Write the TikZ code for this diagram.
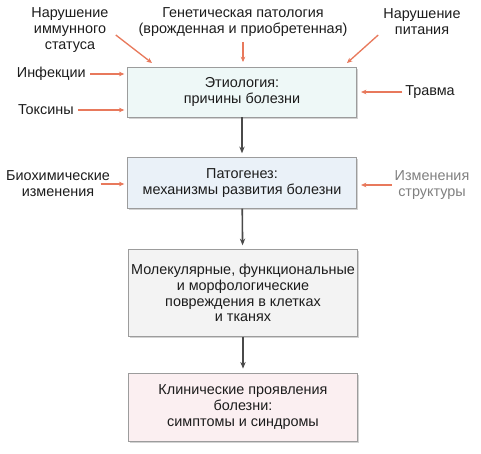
\documentclass[tikz,border=0pt]{standalone}
\usepackage{fontspec}
\setmainfont{Liberation Sans}
\usepackage{tikz}
\usetikzlibrary{arrows.meta}
\usetikzlibrary{shadows}

\definecolor{etiofill}{HTML}{EEF8F7}
\definecolor{pathofill}{HTML}{EAF1F8}
\definecolor{damagefill}{HTML}{F3F3F3}
\definecolor{clinicfill}{HTML}{FBEFF1}
\definecolor{boxline}{HTML}{9C9C9C}
\definecolor{causered}{HTML}{E8795C}
\definecolor{flowgray}{HTML}{4A4A4A}
\definecolor{inktext}{HTML}{1C1C1C}

\begin{document}
\begin{tikzpicture}[x=0.75pt,y=-0.75pt,
	every node/.style={font=\fontsize{10.8}{11.9}\selectfont,align=center,inner sep=0pt,text=inktext},
	stage/.style={draw=boxline,line width=0.6pt,minimum width=172pt,
		drop shadow={shadow xshift=1pt,shadow yshift=-1.2pt,opacity=0.35}},
	cause/.style={draw=causered,line width=1pt,-{Stealth[length=4pt,width=3.5pt]}},
	flow/.style={draw=flowgray,line width=1.2pt,-{Stealth[length=5pt,width=4pt]}}]
\useasboundingbox (0,0) rectangle (481,453);

%stages
\node[stage,fill=etiofill,minimum height=37.5pt] (etio) at (242,92) {Этиология:\\причины болезни};
\node[stage,fill=pathofill,minimum height=38pt] (patho) at (242,183) {Патогенез:\\механизмы развития болезни};
\node[stage,fill=damagefill,minimum height=65pt] (damage) at (243,293)
	{Молекулярные, функциональные\\и морфологические\\повреждения в клетках\\и тканях};
\node[stage,fill=clinicfill,minimum height=51pt] (clinic) at (243,407)
	{Клинические проявления\\болезни:\\симптомы и синдромы};

%flow
\foreach \a/\b in {etio/patho,patho/damage,damage/clinic}
	\draw[flow,shorten >=3pt] (\a) -- (\b);

%causes
\node (imm) at (70,30) {Нарушение\\иммунного\\статуса};
\node (gen) at (243,22) {Генетическая патология\\(врожденная и приобретенная)};
\node (pit) at (422,22) {Нарушение\\питания};
\node[anchor=east] (inf) at (86,74) {Инфекции};
\node[anchor=east] (tox) at (74,110) {Токсины};
\node[anchor=west] (trav) at (405,92) {Травма};
\node (bio) at (58,184) {Биохимические\\изменения};
\node[text=gray] (izm) at (432,185) {Изменения\\структуры};

\coordinate (imm-tip) at (152,63);
\coordinate (gen-tip) at (243,62);
\coordinate (pit-tip) at (347,63);

\draw[cause] ([shift={(7,5)}]imm.east) -- (imm-tip);
\draw[cause] ([yshift=-4pt]gen.south) -- (gen-tip);
\draw[cause] ([shift={(-5,13)}]pit.west) -- (pit-tip);
\draw[cause,shorten <=3pt,shorten >=2pt] (inf.east) -- (inf.east -| etio.west);
\draw[cause,shorten <=3pt,shorten >=2pt] (tox.east) -- (tox.east -| etio.west);
\draw[cause,shorten <=2pt,shorten >=3pt] (trav.west) -- (trav.west -| etio.east);
\draw[cause,shorten >=2pt] ([xshift=-7pt]bio.east) -- (bio.east -| patho.west);
\draw[cause,shorten <=2pt,shorten >=3pt] (izm.west) -- (izm.west -| patho.east);
\end{tikzpicture}
\end{document}
